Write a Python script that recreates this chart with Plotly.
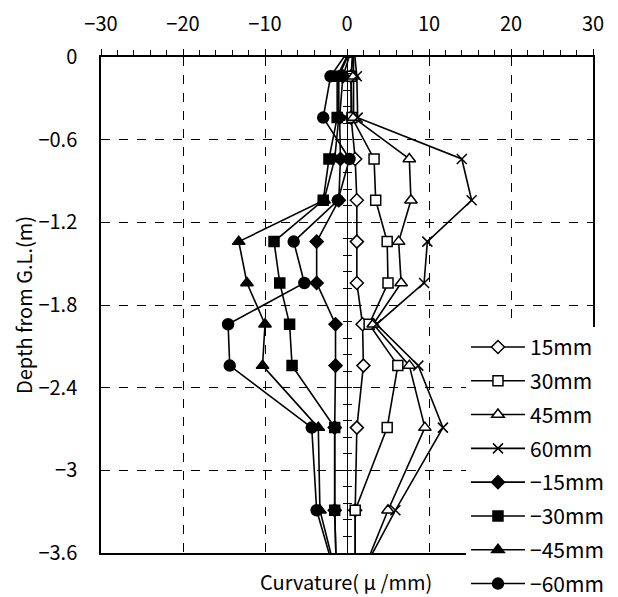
import plotly.graph_objects as go

# Gauge depths below ground level (m); first and last rows lie just outside the plotted range
depth = [0.10, -0.14, -0.44, -0.74, -1.04, -1.34, -1.64, -1.94, -2.24, -2.69, -3.29, -3.95]

# Curvature (micro/mm) for each head displacement
c_p15 = [0.8, 0.5, 0.5, 1.0, 1.2, 1.2, 1.2, 1.9, 2.0, 1.2, 1.0, 1.0]
c_p30 = [0.8, 0.5, 0.6, 3.3, 3.5, 4.9, 5.0, 2.7, 6.2, 4.9, 1.0, 1.0]
c_p45 = [0.8, 0.8, 0.8, 7.6, 7.8, 6.3, 6.6, 3.2, 7.6, 9.5, 5.0, 0.5]
c_p60 = [0.8, 1.2, 1.3, 14.0, 15.2, 9.8, 9.4, 3.6, 8.7, 11.7, 5.9, 0.0]
c_m15 = [0.8, -0.5, -0.9, -0.8, -1.0, -3.7, -3.7, -1.4, -1.4, -1.5, -1.5, -1.2]
c_m30 = [0.8, -1.2, -1.2, -2.2, -2.9, -8.9, -8.2, -7.0, -6.7, -1.5, -1.5, -1.2]
c_m45 = [0.8, -1.0, -1.0, -1.5, -2.8, -13.2, -12.2, -10.0, -10.3, -3.5, -3.3, -0.5]
c_m60 = [0.8, -2.0, -2.9, 0.3, -1.1, -6.5, -5.2, -14.5, -14.3, -4.3, -3.7, -0.5]

names = ["15mm", "30mm", "45mm", "60mm", "−15mm", "−30mm", "−45mm", "−60mm"]
values = [c_p15, c_p30, c_p45, c_p60, c_m15, c_m30, c_m45, c_m60]

y_ticks = [0, -0.6, -1.2, -1.8, -2.4, -3.0, -3.6]
y_labels = ["0", "−0.6", "−1.2", "−1.8", "−2.4", "−3", "−3.6"]

styles = [
    dict(symbol="diamond", color="white", size=10),
    dict(symbol="square", color="white", size=10),
    dict(symbol="triangle-up", color="white", size=11),
    dict(symbol="x-thin", color="black", size=10),
    dict(symbol="diamond", color="black", size=10),
    dict(symbol="square", color="black", size=10),
    dict(symbol="triangle-up", color="black", size=11),
    dict(symbol="circle", color="black", size=11),
]

FONT = "Noto Sans CJK JP"

fig = go.Figure()
for i, (nm, vals, st) in enumerate(zip(names, values, styles)):
    fig.add_trace(go.Scatter(
        x=vals, y=depth, name=nm, mode="lines+markers",
        legendgroup=f"g{i}",
        line=dict(color="black", width=1.6),
        marker=dict(symbol=st["symbol"], size=st["size"], color=st["color"],
                    line=dict(color="black", width=1.5)),
    ))

# empty traces that carry the axis drawn through x = 0
for ax in ("y2", "y3"):
    fig.add_trace(go.Scatter(x=[None], y=[None], xaxis="x", yaxis=ax,
                             showlegend=False, hoverinfo="skip"))

grid = dict(showgrid=True, gridcolor="black", gridwidth=1, griddash="dash")

fig.update_layout(
    width=618, height=597,
    margin=dict(l=101, r=25, t=57, b=44, autoexpand=False),
    paper_bgcolor="white", plot_bgcolor="white",
    font=dict(family=FONT, size=20, color="black"),
    showlegend=True,
    legend=dict(x=0.754, y=0.4526, xref="container", yref="container",
                xanchor="left", yanchor="top",
                bgcolor="white", borderwidth=0, itemwidth=54,
                tracegroupgap=3.5, font=dict(family=FONT, size=21)),
    xaxis=dict(range=[-30, 30], side="top", dtick=10, tick0=0,
               showline=True, linecolor="black", linewidth=1.5, mirror=True,
               ticks="outside", ticklen=6, tickcolor="black", tickwidth=1,
               ticklabelstandoff=10,
               minor=dict(dtick=2, ticks="outside", ticklen=5, tickcolor="black",
                          showgrid=False),
               zeroline=False, tickfont=dict(size=20), **grid),
    yaxis=dict(range=[-3.6, 0], tickvals=y_ticks, ticktext=y_labels,
               showline=True, linecolor="black", linewidth=1.5, mirror=True,
               ticks="", zeroline=False, tickfont=dict(size=20),
               ticklabelstandoff=18,
               title=dict(text="Depth from G.L.(m)", font=dict(size=20), standoff=0),
               **grid),
    yaxis2=dict(range=[-3.6, 0], overlaying="y", anchor="free", position=0.5,
                side="left", showline=True, linecolor="black", linewidth=1,
                ticks="outside", ticklen=4, dtick=0.12, tick0=0,
                tickcolor="black", showticklabels=False, showgrid=False,
                zeroline=False),
    yaxis3=dict(range=[-3.6, 0], overlaying="y", anchor="free", position=0.5,
                side="right", showline=False,
                ticks="outside", ticklen=4, dtick=0.12, tick0=0,
                tickcolor="black", showticklabels=False, showgrid=False,
                zeroline=False),
    annotations=[dict(text="Curvature( μ /mm)", x=0.498, y=-0.025, xref="paper",
                      yref="paper", xanchor="center", yanchor="top",
                      showarrow=False, font=dict(size=20))],
)

fig.write_html("out.html")
